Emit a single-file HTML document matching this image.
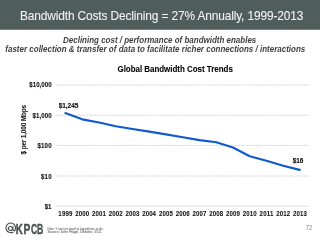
<!DOCTYPE html>
<html><head><meta charset="utf-8"><style>
html,body{margin:0;padding:0;background:#fff;width:320px;height:240px;overflow:hidden}
svg{display:block;will-change:transform}
text{font-family:"Liberation Sans",sans-serif}
</style></head><body>
<svg width="320" height="240" viewBox="0 0 320 240">
<rect x="0" y="0" width="320" height="29.75" fill="#505e5b"/>
<text x="20.02" y="19.80" font-size="11.9" textLength="283.30" fill="#f0f0f0" stroke="#f0f0f0" stroke-width="0.1">Bandwidth Costs Declining = 27% Annually, 1999-2013</text>
<g font-weight="bold" font-style="italic" fill="#404040">
<text transform="translate(63.06,42.70) scale(1,1.08)" font-size="8.0" textLength="193.21" >Declining cost / performance of bandwidth enables</text>
<text transform="translate(5.31,52.30) scale(1,1.08)" font-size="8.0" textLength="299.96" >faster collection &amp; transfer of data to facilitate richer connections / interactions</text>
</g>
<text transform="translate(117.47,72.10) scale(1,1.08)" font-size="8.0" textLength="115.36" font-weight="bold" fill="#000" stroke="#000" stroke-width="0.08">Global Bandwidth Cost Trends</text>
<line x1="56" y1="176.00" x2="309.5" y2="176.00" stroke="#dcdcdc" stroke-width="1.0" stroke-dasharray="3,0.7"/>
<line x1="56" y1="145.40" x2="309.5" y2="145.40" stroke="#dcdcdc" stroke-width="1.0" stroke-dasharray="3,0.7"/>
<line x1="56" y1="115.20" x2="309.5" y2="115.20" stroke="#dcdcdc" stroke-width="1.0" stroke-dasharray="3,0.7"/>
<line x1="56" y1="85.00" x2="309.5" y2="85.00" stroke="#dcdcdc" stroke-width="1.0" stroke-dasharray="3,0.7"/>

<line x1="56" y1="206.2" x2="309" y2="206.2" stroke="#e2e2e2" stroke-width="1"/>
<g font-weight="bold" fill="#111" stroke="#111" stroke-width="0.1">
<text transform="translate(44.82,209.00) scale(1,1.08)" font-size="6.1" textLength="6.65" >$1</text>
<text transform="translate(40.92,178.50) scale(1,1.08)" font-size="6.1" textLength="10.63" >$10</text>
<text transform="translate(37.52,148.00) scale(1,1.08)" font-size="6.1" textLength="14.03" >$100</text>
<text transform="translate(32.42,117.50) scale(1,1.08)" font-size="6.1" textLength="19.13" >$1,000</text>
<text transform="translate(29.32,87.00) scale(1,1.08)" font-size="6.1" textLength="22.23" >$10,000</text>

</g>
<g font-weight="bold" fill="#151515" stroke="#151515" stroke-width="0.06">
<text transform="translate(58.37,216.20) scale(1,1.1)" font-size="6.1" textLength="14.11" >1999</text>
<text transform="translate(75.29,216.20) scale(1,1.1)" font-size="6.1" textLength="13.96" >2000</text>
<text transform="translate(92.04,216.20) scale(1,1.1)" font-size="6.1" textLength="13.88" >2001</text>
<text transform="translate(108.79,216.20) scale(1,1.1)" font-size="6.1" textLength="13.96" >2002</text>
<text transform="translate(125.54,216.20) scale(1,1.1)" font-size="6.1" textLength="13.93" >2003</text>
<text transform="translate(142.29,216.20) scale(1,1.1)" font-size="6.1" textLength="13.74" >2004</text>
<text transform="translate(159.04,216.20) scale(1,1.1)" font-size="6.1" textLength="13.88" >2005</text>
<text transform="translate(175.79,216.20) scale(1,1.1)" font-size="6.1" textLength="13.93" >2006</text>
<text transform="translate(192.54,216.20) scale(1,1.1)" font-size="6.1" textLength="13.98" >2007</text>
<text transform="translate(209.29,216.20) scale(1,1.1)" font-size="6.1" textLength="13.90" >2008</text>
<text transform="translate(226.04,216.20) scale(1,1.1)" font-size="6.1" textLength="13.94" >2009</text>
<text transform="translate(242.79,216.20) scale(1,1.1)" font-size="6.1" textLength="13.96" >2010</text>
<text transform="translate(259.54,216.20) scale(1,1.1)" font-size="6.1" textLength="13.88" >2011</text>
<text transform="translate(276.29,216.20) scale(1,1.1)" font-size="6.1" textLength="13.96" >2012</text>
<text transform="translate(293.04,216.20) scale(1,1.1)" font-size="6.1" textLength="13.93" >2013</text>

</g>
<polyline points="64.60,112.75 82.25,119.35 99.00,122.55 115.75,126.25 132.50,129.00 149.25,131.65 166.00,134.35 182.75,137.25 199.50,140.15 216.25,142.25 233.00,147.45 249.75,156.25 266.50,160.75 283.25,165.75 300.60,170.15" fill="none" stroke="#0f5acc" stroke-width="2.15" stroke-linejoin="round" stroke-linecap="butt"/>
<g font-weight="bold" fill="#111" stroke="#111" stroke-width="0.12">
<text x="58.66" y="108.10" font-size="6.5" textLength="19.77" >$1,245</text>
<text x="292.81" y="163.40" font-size="6.5" textLength="10.67" >$16</text>
</g>
<text transform="translate(25.9,129.7) rotate(-90)" text-anchor="middle" font-size="6.4" font-weight="bold" fill="#151515" stroke="#151515" stroke-width="0.08" textLength="49.4">$ per 1,000 Mbps</text>
<g fill="none" stroke="#47524f">
<path d="M 13.3 231.9 A 4.8 4.8 0 1 1 15.45 228.9 C 15.4 230.9 13.3 231.3 13.0 229.5 L 12.8 226.2" stroke-width="1.15"/>
<circle cx="10.4" cy="228.5" r="2.0" stroke-width="1.2"/>
</g>
<g fill="#47524f" stroke="#47524f" stroke-width="0.45" font-weight="bold">
<text font-size="14.9" transform="translate(15.85,233.5) scale(0.655,1)">K</text>
<text font-size="14.9" transform="translate(23.51,233.5) scale(0.688,1)">P</text>
<text font-size="14.9" transform="translate(30.95,233.5) scale(0.575,1)">C</text>
<text font-size="14.9" transform="translate(37.12,233.5) scale(0.583,1)">B</text>
</g>
<g font-size="3.3" fill="#3c3c3c">
<text x="47.5" y="229.8" textLength="56" lengthAdjust="spacingAndGlyphs">Note: Y axis on graph is logarithmic scale.</text>
<text x="47.5" y="233.3" textLength="54.5" lengthAdjust="spacingAndGlyphs">Source: John Hagel, Deloitte, 5/14.</text>
</g>
<text x="305.7" y="230" font-size="6.3" fill="#8a8a8a" textLength="6.6" lengthAdjust="spacingAndGlyphs">72</text>
</svg>
</body></html>
